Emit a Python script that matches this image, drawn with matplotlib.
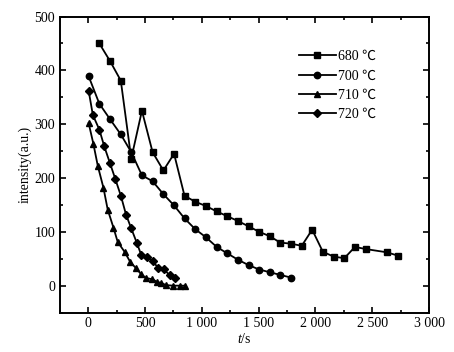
import matplotlib
matplotlib.use("Agg")
import matplotlib.pyplot as plt
from matplotlib.ticker import MultipleLocator, FuncFormatter

plt.rcParams['font.family'] = ['Liberation Serif', 'Noto Sans CJK SC']
plt.rcParams['mathtext.fontset'] = 'custom'
plt.rcParams['mathtext.it'] = 'Liberation Serif:italic'
plt.rcParams['mathtext.rm'] = 'Liberation Serif'

# 680 C
t680 = [97, 192, 286, 378, 472, 566, 661, 755, 847, 941, 1035, 1130, 1224, 1319,
        1413, 1505, 1596, 1690, 1785, 1879, 1971, 2065, 2160, 2254, 2348, 2443,
        2628, 2723]
i680 = [450, 417, 381, 236, 325, 248, 214, 245, 167, 156, 148, 138, 129, 120,
        110, 100, 92, 80, 78, 74, 104, 63, 54, 51, 72, 68, 62, 56]
# 700 C
t700 = [3, 97, 192, 286, 378, 472, 566, 661, 755, 847, 941, 1035, 1130, 1224,
        1319, 1413, 1505, 1596, 1690, 1785]
i700 = [389, 338, 309, 281, 248, 205, 194, 170, 149, 125, 105, 90, 72, 60,
        48, 38, 30, 25, 20, 15]
# 710 C
t710 = [3, 44, 84, 133, 171, 221, 259, 319, 369, 422, 466, 510, 564, 605,
        640, 687, 746, 805, 850]
i710 = [302, 264, 222, 182, 141, 108, 81, 63, 44, 32, 21, 14, 12, 7,
        5, 1, 0, 0, 0]
# 720 C
t720 = [3, 40, 97, 140, 190, 238, 288, 332, 375, 428, 466, 516, 569, 616,
        664, 717, 761]
i720 = [362, 317, 290, 259, 228, 198, 166, 132, 108, 79, 57, 53, 46, 32,
        31, 19, 15]

labels = ['680 \u2103', '700 \u2103', '710 \u2103', '720 \u2103']

fig = plt.figure(figsize=(4.54, 3.52), dpi=100)
ax = fig.add_axes([0.132, 0.112, 0.813, 0.841])

kw = dict(color='black', linewidth=1.3, markersize=4.6)
ax.plot(t680, i680, marker='s', label=labels[0], **kw)
ax.plot(t700, i700, marker='o', label=labels[1], **kw)
ax.plot(t710, i710, marker='^', label=labels[2], **kw)
ax.plot(t720, i720, marker='D', label=labels[3], markersize=4.2, color='black', linewidth=1.3)

ax.set_xlim(-250, 3000)
ax.set_ylim(-50, 500)
ax.xaxis.set_major_locator(MultipleLocator(500))
ax.xaxis.set_minor_locator(MultipleLocator(250))
ax.yaxis.set_major_locator(MultipleLocator(100))
ax.yaxis.set_minor_locator(MultipleLocator(50))
ax.xaxis.set_major_formatter(FuncFormatter(
    lambda v, p: f"{int(v):,}".replace(',', ' ')))

ax.tick_params(which='both', direction='in', top=True, right=True,
               labelsize=10, width=1.2)
ax.tick_params(which='major', length=4)
ax.tick_params(which='minor', length=2)
for s in ax.spines.values():
    s.set_linewidth(1.4)

ax.set_xlabel('$t$/s', fontsize=10, labelpad=1)
ax.set_ylabel('intensity(a.u.)', fontsize=10, labelpad=2)

ax.legend(loc='upper left', bbox_to_anchor=(0.63, 0.91), frameon=False,
          fontsize=10, handlelength=2.6, handletextpad=0.2,
          labelspacing=0.45, borderpad=0)

fig.savefig('out.png', dpi=100)
